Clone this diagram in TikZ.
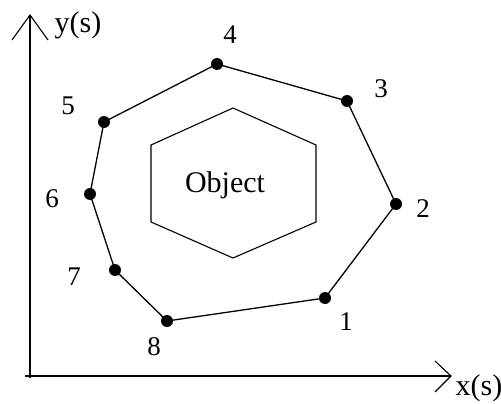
\documentclass[tikz,border=0pt]{standalone}
\usepackage{fontspec}
\setmainfont{Liberation Serif}
\begin{document}
\begin{tikzpicture}[x=1pt,y=-1pt,
  pt/.style={circle,fill=black,inner sep=0pt,minimum size=12pt},
  lbl/.style={inner sep=0pt,font=\fontsize{27}{31}\selectfont},
  tlbl/.style={inner sep=0pt,font=\fontsize{30}{34}\selectfont},
  edge/.style={line width=1.3pt},
  axis/.style={line width=1.6pt},
  chev/.style={line width=1.1pt}]
\useasboundingbox (0,0) rectangle (501,404);
% axes
\coordinate (Ytip) at (30,15);
\coordinate (Xtip) at (451,376);
\coordinate (Oy) at (30,378);
\coordinate (Ox) at (25,376);
\draw[axis] (Oy) -- (Ytip);
\draw[axis] (Ox) -- (Xtip);
\coordinate (ya) at (12,40);
\coordinate (yb) at (48,40);
\draw[chev] (ya) -- (Ytip) -- (yb);
\coordinate (xa) at (435,361);
\coordinate (xb) at (435,392);
\draw[chev] (xa) -- (Xtip) -- (xb);
\node[tlbl] (ylab) at (78,25) {y(s)};
\node[tlbl] (xlab) at (479,388) {x(s)};
% points
\node[pt] (p1) at (325,298) {};
\node[pt] (p2) at (396,204) {};
\node[pt] (p3) at (347,101) {};
\node[pt] (p4) at (217,64) {};
\node[pt] (p5) at (104,122) {};
\node[pt] (p6) at (90,194) {};
\node[pt] (p7) at (115,270) {};
\node[pt] (p8) at (167,321) {};
\draw[edge] (p1.center) -- (p2.center) -- (p3.center) -- (p4.center) -- (p5.center) -- (p6.center) -- (p7.center) -- (p8.center) -- (p1.center);
\node[lbl] (l1) at (346,322) {1};
\node[lbl] (l2) at (423,209) {2};
\node[lbl] (l3) at (381,89) {3};
\node[lbl] (l4) at (230,35) {4};
\node[lbl] (l5) at (68,106) {5};
\node[lbl] (l6) at (52,199) {6};
\node[lbl] (l7) at (74,277) {7};
\node[lbl] (l8) at (154,347) {8};
% object hexagon
\coordinate (h1) at (233,108);
\coordinate (h2) at (316,145);
\coordinate (h3) at (316,222);
\coordinate (h4) at (233,258);
\coordinate (h5) at (151,222);
\coordinate (h6) at (151,145);
\draw[edge,line width=1.1pt] (h1) -- (h2) -- (h3) -- (h4) -- (h5) -- (h6) -- cycle;
\node[tlbl] (obj) at (225,185) {Object};
\end{tikzpicture}
\end{document}
